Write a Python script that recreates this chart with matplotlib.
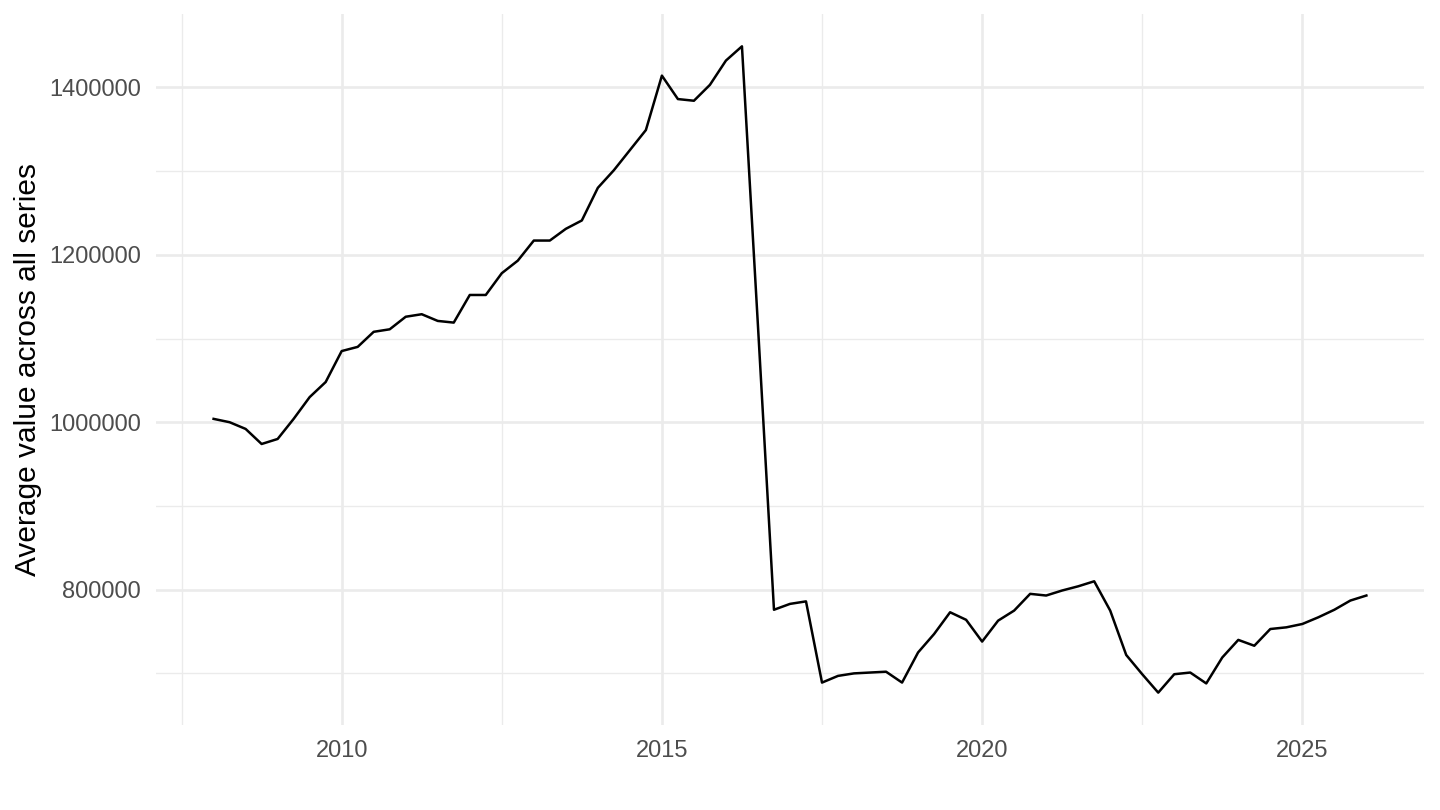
import numpy as np
import matplotlib
matplotlib.use('Agg')
import matplotlib.pyplot as plt
from matplotlib.ticker import MultipleLocator, FuncFormatter

# quarterly observations, 2008Q1 .. 2026Q1
years = np.arange(2008, 2026.01, 0.25)
values = [
    1004000, 1000000, 992000, 974000, 980000, 1004000, 1030000, 1048000,
    1085000, 1090000, 1108000, 1111000, 1126000, 1129000, 1121000, 1119000,
    1152000, 1152000, 1178000, 1193000, 1217000, 1217000, 1231000, 1241000,
    1280000, 1301000, 1325000, 1349000, 1414000, 1386000, 1384000, 1403000,
    1432000, 1449000, 1115000, 776000, 783000, 786000, 689000, 697000,
    700000, 701000, 702000, 689000, 725000, 747000, 773000, 764000,
    738000, 763000, 775000, 795000, 793000, 799000, 804000, 810000,
    775000, 722000, 699000, 677000, 699000, 701000, 688000, 719000,
    740000, 733000, 753000, 755000, 759000, 767000, 776000, 787000,
    793000,
]
y_label = 'Average value across all series'

plt.rcParams['font.family'] = ['Liberation Sans', 'DejaVu Sans']

fig = plt.figure(figsize=(14.4, 8.1), dpi=100)
ax = fig.add_axes([0.1083, 0.105, 0.8806, 0.8777])

ax.plot(years, values, color='black', linewidth=1.8, zorder=3)
ax.margins(x=0.05, y=0.05)

ax.xaxis.set_major_locator(MultipleLocator(5))
ax.xaxis.set_minor_locator(MultipleLocator(2.5))
ax.yaxis.set_major_locator(MultipleLocator(200000))
ax.yaxis.set_minor_locator(MultipleLocator(100000))
ax.yaxis.set_major_formatter(FuncFormatter(lambda v, p: f'{int(round(v))}'))

ax.grid(which='major', color='#EBEBEB', linewidth=1.9)
ax.grid(which='minor', color='#EBEBEB', linewidth=0.95)
ax.set_axisbelow(True)

for s in ax.spines.values():
    s.set_visible(False)
ax.tick_params(which='both', length=0)
ax.tick_params(axis='x', labelsize=17, labelcolor='#4D4D4D', pad=11)
ax.tick_params(axis='y', labelsize=17, labelcolor='#4D4D4D', pad=11)
ax.set_ylabel(y_label, fontsize=21.5, color='black', labelpad=5)

fig.savefig('out.png', dpi=100)
